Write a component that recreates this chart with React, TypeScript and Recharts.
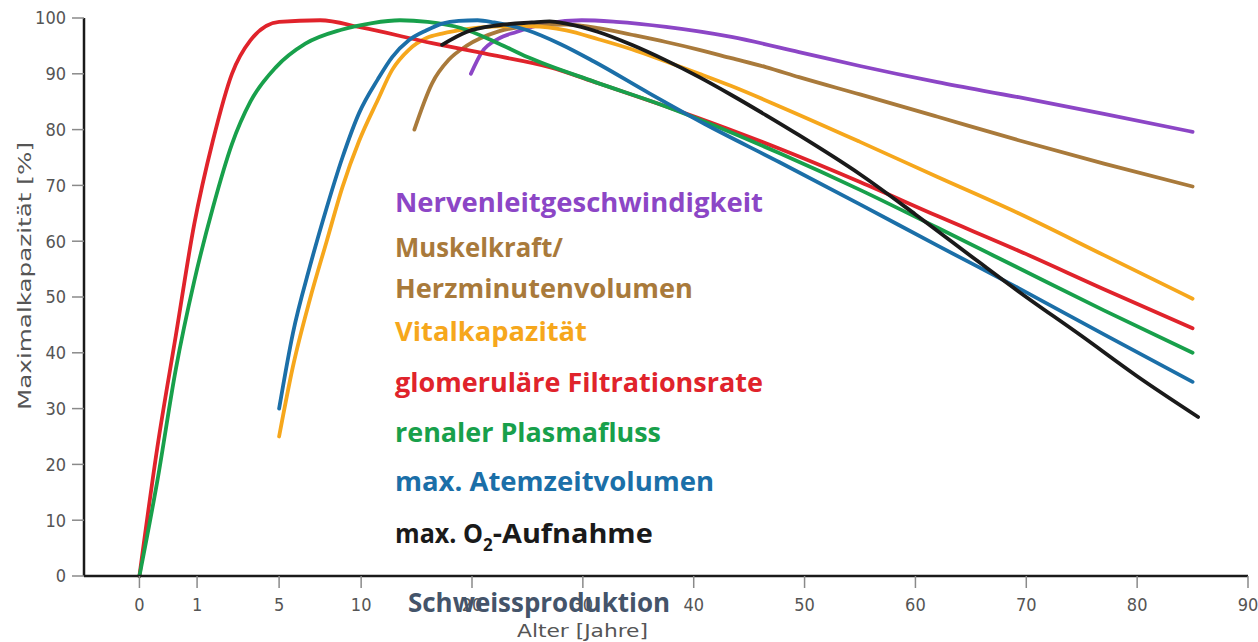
import { LineChart, Line, XAxis, YAxis } from 'recharts';

// Age ticks on the x axis (the first years are stretched)
const ageTicks = [0, 1, 5, 10, 20, 30, 40, 50, 60, 70, 80, 90];
const valueTicks = [0, 10, 20, 30, 40, 50, 60, 70, 80, 90, 100];

// piecewise linear axis: [age, axis position]
const axisBreaks = [
  [0, 0],
  [1, 0.52],
  [5, 1.26],
  [10, 2],
  [90, 10],
];

function toAxis(age: number) {
  for (let i = 1; i < axisBreaks.length; i++) {
    const [a0, p0] = axisBreaks[i - 1];
    const [a1, p1] = axisBreaks[i];
    if (age <= a1 || i === axisBreaks.length - 1) {
      return p0 + ((age - a0) / (a1 - a0)) * (p1 - p0);
    }
  }
  return 0;
}

// Nervenleitgeschwindigkeit
const nervAges = [19.9, 20.9, 22.4, 24, 25.4, 26.9, 29.9, 33, 37.5, 43.4, 49.5, 55, 62, 69.3, 77, 85];
const nervValues = [90, 93.9, 96.3, 97.5, 98.4, 99.1, 99.6, 99.3, 98.4, 96.6, 93.9, 91.4, 88.5, 85.8, 82.8, 79.6];

// Muskelkraft / Herzminutenvolumen
const muskAges = [14.8, 16.4, 17.9, 19.5, 22.4, 25.4, 28.5, 31.4, 34.4, 37.5, 40.5, 43.4, 46.5, 49.5, 55, 62, 69.3, 77, 85];
const muskValues = [80, 88.3, 92.5, 95, 97.6, 98.6, 98.8, 98.2, 97, 95.7, 94.3, 92.8, 91.2, 89.4, 86.3, 82.3, 78.1, 73.9, 69.8];

// Vitalkapazität
const vitalAges = [5, 5.84, 6.87, 7.9, 8.86, 9.88, 11.5, 12.8, 14.3, 15.9, 17.3, 19.5, 22.4, 25.4, 28.5, 31.4, 34.4, 37.5, 40.5, 43.4, 47.7, 55, 62, 69.3, 77, 85];
const vitalValues = [25, 37.5, 49.5, 60, 69.7, 78, 85.3, 90.7, 94.3, 96.4, 97.2, 98, 98.5, 98.5, 97.8, 96.2, 94.4, 92.2, 90, 87.8, 84.2, 77.8, 71.5, 65, 57.5, 49.7];

// glomeruläre Filtrationsrate
const gfrAges = [0, 0.31, 0.63, 0.95, 1.77, 2.7, 3.6, 5, 7.5, 10, 16.4, 22, 27, 31.4, 37, 43, 47.7, 55, 62, 69.3, 77, 85];
const gfrValues = [0, 23, 43, 63, 78, 90, 96, 99.3, 99.6, 98.3, 95.5, 93.3, 91.2, 88.3, 84.5, 80.2, 76.6, 70.6, 64.5, 58.3, 51.4, 44.4];

// renaler Plasmafluss
const rpfAges = [0, 0.31, 0.63, 0.95, 1.77, 2.7, 3.6, 4.85, 6.6, 8.8, 11, 13.5, 16, 19, 22, 25, 31, 37, 43, 47.7, 55, 62, 69.3, 77, 85];
const rpfValues = [0, 17, 37, 52.8, 66, 77.4, 85, 91.2, 95.4, 97.9, 99.1, 99.6, 99.3, 98.2, 95.8, 93, 88.6, 84.5, 79.8, 75.8, 69.2, 62.4, 55.2, 47.6, 40];

// max. Atemzeitvolumen
const atemAges = [5, 5.84, 6.87, 7.9, 8.86, 9.88, 11.5, 12.8, 14.3, 15.9, 17.3, 18.8, 20.5, 22, 25, 28, 31, 36, 41, 47.7, 55, 62, 69.3, 77, 85];
const atemValues = [30, 43.5, 55.4, 66, 75, 83, 89, 93, 96, 97.8, 99, 99.5, 99.6, 99.2, 97.8, 95.3, 92.2, 86.5, 81, 74.2, 66.6, 59.2, 51.6, 43.3, 34.8];

// max. O2-Aufnahme
const o2Ages = [17.3, 19.5, 22.4, 25.4, 27, 28.5, 31.4, 34.4, 37.5, 40.5, 43.4, 46.5, 49.5, 55, 60, 65.7, 69.3, 75, 80, 85.5];
const o2Values = [95.2, 97.5, 98.7, 99.2, 99.4, 99, 97.5, 95.2, 92.4, 89.4, 86.2, 82.6, 79, 72, 64.8, 56.3, 51, 43, 35.8, 28.5];

const rows = (ages: number[], values: number[]) =>
  ages.map((a, i) => ({ u: toAxis(a), v: values[i] }));

const series = [
  { name: 'Nervenleitgeschwindigkeit', color: '#8c46c6', data: rows(nervAges, nervValues) },
  { name: 'Muskelkraft/Herzminutenvolumen', color: '#a97a3b', data: rows(muskAges, muskValues) },
  { name: 'Vitalkapazität', color: '#f6a71c', data: rows(vitalAges, vitalValues) },
  { name: 'glomeruläre Filtrationsrate', color: '#e0232b', data: rows(gfrAges, gfrValues) },
  { name: 'renaler Plasmafluss', color: '#18a04b', data: rows(rpfAges, rpfValues) },
  { name: 'max. Atemzeitvolumen', color: '#1b6fa8', data: rows(atemAges, atemValues) },
  { name: 'max. O2-Aufnahme', color: '#1a1a1a', data: rows(o2Ages, o2Values) },
];

const tickFont = "'Liberation Sans Narrow', 'DejaVu Sans Condensed', sans-serif";
const labelFont = "'Open Sans', 'Noto Sans', sans-serif";

export default function App() {
  const W = 1258;
  const H = 642;
  const legendStyle = { fontFamily: labelFont, fontWeight: 700, fontSize: 27 };

  return (
    <div style={{ position: 'absolute', left: 0, top: 0, width: W, height: H, background: '#fff' }}>
      <LineChart width={W} height={H} margin={{ top: 18, right: 10, bottom: 0, left: 0 }}>
        <XAxis
          type="number"
          dataKey="u"
          domain={[-0.5, 10]}
          ticks={ageTicks.map(toAxis)}
          tickFormatter={(_v, i) => String(ageTicks[i])}
          interval={0}
          allowDataOverflow
          height={66}
          tickSize={12}
          tickMargin={10}
          axisLine={{ stroke: '#1a1a1a', strokeWidth: 2.5 }}
          tickLine={{ stroke: '#8a8a8a', strokeWidth: 1.5 }}
          tick={{ fill: '#555', fontSize: 18, fontFamily: tickFont }}
        />
        <YAxis
          type="number"
          domain={[0, 100]}
          ticks={valueTicks}
          interval={0}
          width={84}
          tickSize={12}
          tickMargin={6}
          axisLine={{ stroke: '#1a1a1a', strokeWidth: 2.5 }}
          tickLine={{ stroke: '#8a8a8a', strokeWidth: 1.5 }}
          tick={{ fill: '#555', fontSize: 18, fontFamily: tickFont }}
        />
        {series.map((s) => (
          <Line
            key={s.name}
            data={s.data}
            dataKey="v"
            name={s.name}
            type="monotone"
            stroke={s.color}
            strokeWidth={3.8}
            strokeLinecap="round"
            dot={false}
            activeDot={false}
            isAnimationActive={false}
          />
        ))}
      </LineChart>

      {/* labels drawn over the plot */}
      <svg
        width={W}
        height={H}
        style={{ position: 'absolute', left: 0, top: 0, pointerEvents: 'none' }}
      >
        <g style={legendStyle}>
          <text x={395} y={212} fill={series[0].color} textLength={368} lengthAdjust="spacingAndGlyphs">
            Nervenleitgeschwindigkeit
          </text>
          <text x={395} y={257} fill={series[1].color} textLength={168} lengthAdjust="spacingAndGlyphs">
            Muskelkraft/
          </text>
          <text x={395} y={298} fill={series[1].color} textLength={298} lengthAdjust="spacingAndGlyphs">
            Herzminutenvolumen
          </text>
          <text x={395} y={341} fill={series[2].color} textLength={192} lengthAdjust="spacingAndGlyphs">
            Vitalkapazität
          </text>
          <text x={395} y={392} fill={series[3].color} textLength={368} lengthAdjust="spacingAndGlyphs">
            glomeruläre Filtrationsrate
          </text>
          <text x={395} y={442} fill={series[4].color} textLength={266} lengthAdjust="spacingAndGlyphs">
            renaler Plasmafluss
          </text>
          <text x={395} y={491} fill={series[5].color} textLength={319} lengthAdjust="spacingAndGlyphs">
            max. Atemzeitvolumen
          </text>
          <text x={395} y={543} fill={series[6].color}>
            <tspan textLength={88} lengthAdjust="spacingAndGlyphs">max. O</tspan>
            <tspan dy={8} fontSize={17}>2</tspan>
            <tspan dy={-8} textLength={160} lengthAdjust="spacingAndGlyphs">-Aufnahme</tspan>
          </text>
        </g>
        <text
          x={408}
          y={612}
          fill="#44546a"
          style={{ fontFamily: labelFont, fontWeight: 700, fontSize: 27 }}
          textLength={262}
          lengthAdjust="spacingAndGlyphs"
        >
          Schweissproduktion
        </text>
        <text
          x={517}
          y={637}
          fill="#555"
          style={{ fontFamily: tickFont, fontSize: 18 }}
          textLength={131}
          lengthAdjust="spacingAndGlyphs"
        >
          Alter [Jahre]
        </text>
        <text
          transform="translate(31,410) rotate(-90)"
          fill="#555"
          style={{ fontFamily: tickFont, fontSize: 18 }}
          textLength={268}
          lengthAdjust="spacingAndGlyphs"
        >
          Maximalkapazität [%]
        </text>
      </svg>
    </div>
  );
}
